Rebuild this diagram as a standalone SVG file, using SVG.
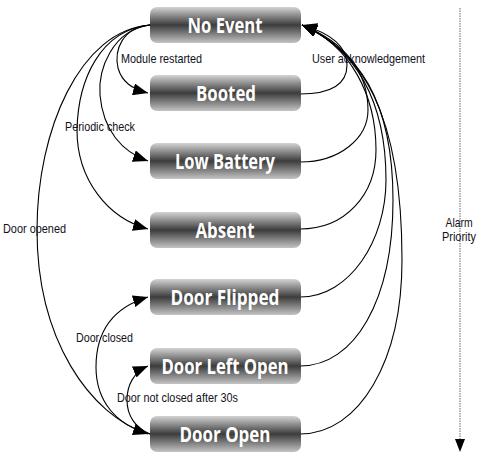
<svg xmlns="http://www.w3.org/2000/svg" width="479" height="458" viewBox="0 0 479 458">
<style>
.box{fill:url(#g);}
.nt{font-family:"Open Sans","DejaVu Sans",sans-serif;font-weight:bold;font-size:21px;fill:#fff;text-anchor:middle;}
.lb{font-family:"Liberation Sans",Arial,sans-serif;font-size:13px;fill:#111122;}
.e{fill:none;stroke:#000;stroke-width:1.1;marker-end:url(#a);}
</style>
<defs>
<linearGradient id="g" x1="0" y1="0" x2="0" y2="1">
<stop offset="0" stop-color="#d4d4d4"/>
<stop offset="0.5" stop-color="#3c3c3c"/>
<stop offset="1" stop-color="#c4c4c4"/>
</linearGradient>
<marker id="a" markerUnits="userSpaceOnUse" markerWidth="16" markerHeight="12" refX="15" refY="6" orient="auto">
<path d="M0,0 L15,6 L0,12 Z" fill="#000"/>
</marker>
</defs>
<g id="connectors">
<path class="e" d="M150,25 C122,28 114,50 118,68 C122,82 132,89 148,93"/>
<path class="e" d="M150,25 C112,30 98,70 100,95 C103,130 122,152 148,161"/>
<path class="e" d="M150,25 C100,30 78,80 77,130 C77,180 108,218 148,229"/>
<path class="e" d="M150,25 C80,30 37,130 37,230 C37,340 90,415 148,434"/>
<path class="e" d="M150,434 C115,425 96,400 96,367 C96,330 115,307 148,297"/>
<path class="e" d="M150,434 C135,428 127,415 127,400 C127,385 134,372 148,366"/>
<path class="e" d="M300,94 C330,94 347,85 347,65 C347,45 330,33 302,25"/>
<path class="e" d="M300,162 C340,162 368,138 368,110 C368,72 345,42 302,25"/>
<path class="e" d="M300,229 C345,229 376,195 376,150 C376,95 350,45 302,25"/>
<path class="e" d="M300,297 C350,297 386,240 386,180 C386,100 355,48 302,25"/>
<path class="e" d="M300,366 C355,366 393,300 393,200 C393,100 358,50 302,25"/>
<path class="e" d="M300,434 C360,434 402,360 402,260 C402,110 360,50 302,25"/>
<line x1="460" y1="8" x2="460" y2="440" stroke="#8a8a8a" stroke-width="1.3" stroke-dasharray="1.5,1"/>
<path d="M455,439 L465,439 L460,452 Z" fill="#000"/>
</g>
<g id="labels">
<text class="lb" x="121" y="63" textLength="81" lengthAdjust="spacingAndGlyphs">Module restarted</text>
<text class="lb" x="312" y="63" textLength="113" lengthAdjust="spacingAndGlyphs">User acknowledgement</text>
<text class="lb" x="65" y="131" textLength="70" lengthAdjust="spacingAndGlyphs">Periodic check</text>
<text class="lb" x="3" y="233" textLength="63" lengthAdjust="spacingAndGlyphs">Door opened</text>
<text class="lb" x="76" y="342" textLength="57" lengthAdjust="spacingAndGlyphs">Door closed</text>
<text class="lb" x="117" y="402" textLength="121" lengthAdjust="spacingAndGlyphs">Door not closed after 30s</text>
<text class="lb" x="459" y="227" text-anchor="middle" textLength="27" lengthAdjust="spacingAndGlyphs">Alarm</text>
<text class="lb" x="459" y="241" text-anchor="middle" textLength="34" lengthAdjust="spacingAndGlyphs">Priority</text>
</g>
<g id="no-event"><rect class="box" x="150" y="7" width="151" height="36" rx="7"/><text class="nt" x="225" y="33" textLength="75" lengthAdjust="spacingAndGlyphs">No Event</text></g>
<g id="booted"><rect class="box" x="150" y="75" width="151" height="36" rx="7"/><text class="nt" x="226" y="101" textLength="60" lengthAdjust="spacingAndGlyphs">Booted</text></g>
<g id="low-battery"><rect class="box" x="150" y="143" width="151" height="36" rx="7"/><text class="nt" x="225" y="169" textLength="100" lengthAdjust="spacingAndGlyphs">Low Battery</text></g>
<g id="absent"><rect class="box" x="150" y="212" width="151" height="36" rx="7"/><text class="nt" x="225" y="238" textLength="59" lengthAdjust="spacingAndGlyphs">Absent</text></g>
<g id="door-flipped"><rect class="box" x="150" y="279" width="151" height="36" rx="7"/><text class="nt" x="225" y="305" textLength="109" lengthAdjust="spacingAndGlyphs">Door Flipped</text></g>
<g id="door-left-open"><rect class="box" x="150" y="348" width="151" height="36" rx="7"/><text class="nt" x="225" y="374" textLength="127" lengthAdjust="spacingAndGlyphs">Door Left Open</text></g>
<g id="door-open"><rect class="box" x="150" y="416" width="151" height="36" rx="7"/><text class="nt" x="225" y="442" textLength="91" lengthAdjust="spacingAndGlyphs">Door Open</text></g>
</svg>
